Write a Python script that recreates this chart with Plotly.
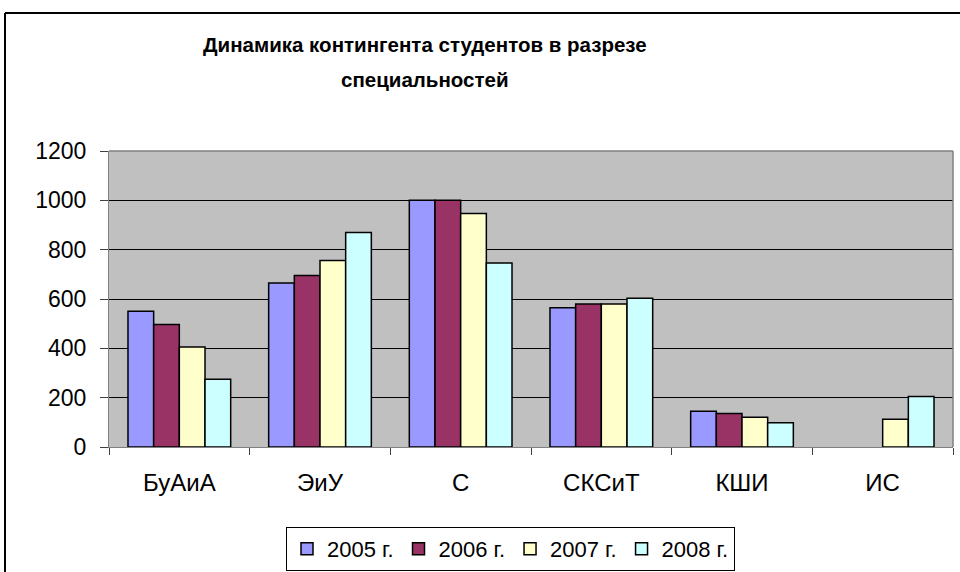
import plotly.graph_objects as go

categories = ["БуАиА", "ЭиУ", "С", "СКСиТ", "КШИ", "ИС"]
series_names = ["2005 г.", "2006 г.", "2007 г.", "2008 г."]
v2005 = [550, 665, 1000, 565, 145, None]
v2006 = [497, 695, 1000, 580, 136, None]
v2007 = [405, 756, 947, 580, 121, 113]
v2008 = [275, 870, 746, 603, 98, 205]
colors = ["#9999FF", "#993366", "#FFFFCC", "#CCFFFF"]
title_lines = ["Динамика контингента студентов в разрезе", "специальностей"]
y_ticks = [0, 200, 400, 600, 800, 1000, 1200]

W, H = 960, 572
L, R, T, B = 109, 7, 151, 125
pw, ph = W - L - R, H - T - B

def px_x(x):
    return (x - L) / pw

def px_y(y):
    return (H - B - y) / ph

fig = go.Figure()
for name, vals, col in zip(series_names, [v2005, v2006, v2007, v2008], colors):
    fig.add_trace(go.Bar(
        x=categories, y=vals, name=name,
        marker=dict(color=col, line=dict(color="black", width=1.5)),
    ))

font_family = "Liberation Sans, Arial, sans-serif"

fig.update_layout(
    width=W, height=H,
    margin=dict(l=L, r=R, t=T, b=B, pad=0, autoexpand=False),
    paper_bgcolor="white",
    plot_bgcolor="#C0C0C0",
    barmode="group",
    bargap=0.27,
    bargroupgap=0,
    font=dict(family=font_family, size=22, color="black"),
    showlegend=True,
    legend=dict(
        orientation="h",
        x=px_x(510.5), xanchor="center",
        y=px_y(527), yanchor="top",
        bordercolor="black", borderwidth=1,
        bgcolor="white",
        font=dict(size=22),
        itemwidth=30,
        tracegroupgap=0,
    ),
    xaxis=dict(
        type="category",
        tickson="boundaries",
        ticks="outside", ticklen=7, tickcolor="#404040",
        showline=True, linecolor="#808080", linewidth=1,
        showgrid=False,
        tickfont=dict(size=24),
        ticklabelstandoff=14,
        mirror=False,
    ),
    yaxis=dict(
        range=[0, 1200],
        tickvals=y_ticks,
        ticks="outside", ticklen=8, tickcolor="#404040",
        showline=True, linecolor="#808080", linewidth=1,
        showgrid=True, gridcolor="black", gridwidth=1,
        zeroline=False,
        tickfont=dict(size=23),
        ticklabelstandoff=9,
    ),
)

# plot area border (top and right) in gray
fig.add_shape(type="line", xref="paper", yref="paper", x0=0, x1=1, y0=1, y1=1,
              line=dict(color="#808080", width=1.5))
fig.add_shape(type="line", xref="paper", yref="paper", x0=1, x1=1, y0=0, y1=1,
              line=dict(color="#808080", width=1.5))

# chart area border (cropped on right and bottom)
fig.add_shape(type="line", xref="paper", yref="paper",
              x0=px_x(5), x1=px_x(965), y0=px_y(13), y1=px_y(13),
              line=dict(color="black", width=2))
fig.add_shape(type="line", xref="paper", yref="paper",
              x0=px_x(5), x1=px_x(5), y0=px_y(13), y1=px_y(580),
              line=dict(color="black", width=2))

# title lines
for line, yc in zip(title_lines, [44, 79]):
    fig.add_annotation(
        text="<b>" + line + "</b>", xref="paper", yref="paper",
        x=px_x(425), y=px_y(yc), xanchor="center", yanchor="middle",
        showarrow=False, font=dict(size=20.5, family=font_family, color="black"),
    )

fig.write_html(
    "out.html",
    config={"displayModeBar": False},
    post_script="document.body.style.margin='0px';document.body.style.overflow='hidden';",
)
